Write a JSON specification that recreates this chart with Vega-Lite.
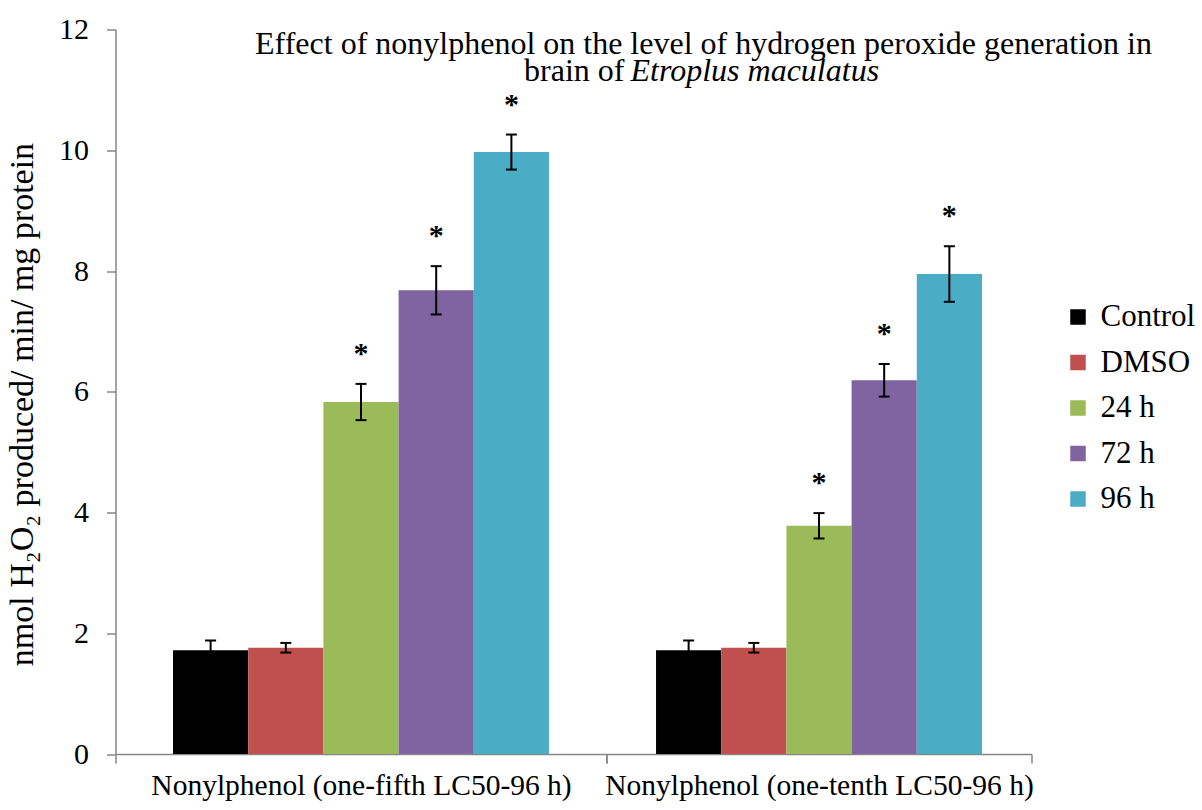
{
  "$schema": "https://vega.github.io/schema/vega-lite/v6.json",
  "autosize": {"type": "pad"},
  "padding": {"left": 5.5, "top": 14.5, "right": 5, "bottom": 5},
  "background": "white",
  "bounds": "flush",
  "title": {
    "text": "Effect of nonylphenol on the level of hydrogen peroxide generation in",
    "anchor": "middle",
    "frame": "group",
    "font": "Liberation Serif",
    "fontSize": 32,
    "fontWeight": "normal",
    "color": "black",
    "dx": 588,
    "offset": -46
  },
  "datasets": {
    "main": [
      {"group": "Nonylphenol (one-fifth LC50-96 h)", "series": "Control", "mean": 1.72, "sd": 0.16, "sig": ""},
      {"group": "Nonylphenol (one-fifth LC50-96 h)", "series": "DMSO", "mean": 1.76, "sd": 0.08, "sig": ""},
      {"group": "Nonylphenol (one-fifth LC50-96 h)", "series": "24 h", "mean": 5.83, "sd": 0.30, "sig": "*"},
      {"group": "Nonylphenol (one-fifth LC50-96 h)", "series": "72 h", "mean": 7.68, "sd": 0.40, "sig": "*"},
      {"group": "Nonylphenol (one-fifth LC50-96 h)", "series": "96 h", "mean": 9.97, "sd": 0.29, "sig": "*"},
      {"group": "Nonylphenol (one-tenth LC50-96 h)", "series": "Control", "mean": 1.72, "sd": 0.16, "sig": ""},
      {"group": "Nonylphenol (one-tenth LC50-96 h)", "series": "DMSO", "mean": 1.76, "sd": 0.08, "sig": ""},
      {"group": "Nonylphenol (one-tenth LC50-96 h)", "series": "24 h", "mean": 3.78, "sd": 0.21, "sig": "*"},
      {"group": "Nonylphenol (one-tenth LC50-96 h)", "series": "72 h", "mean": 6.19, "sd": 0.27, "sig": "*"},
      {"group": "Nonylphenol (one-tenth LC50-96 h)", "series": "96 h", "mean": 7.95, "sd": 0.46, "sig": "*"}
    ]
  },
  "config": {
    "font": "Liberation Serif",
    "view": {"stroke": null},
    "concat": {"spacing": 0},
    "axis": {
      "domainColor": "#868686",
      "domainWidth": 1.5,
      "tickColor": "#868686",
      "tickWidth": 1.5,
      "labelColor": "black",
      "labelFont": "Liberation Serif",
      "titleFont": "Liberation Serif",
      "titleColor": "black",
      "titleFontWeight": "normal",
      "grid": false
    },
    "axisX": {"labelFontSize": 29.5, "labelPadding": 8, "tickSize": 9, "labelAngle": 0, "labelLimit": 0, "tickBand": "extent"},
    "legend": {
      "orient": "none",
      "legendX": 947,
      "legendY": 272,
      "padding": 0,
      "symbolType": "square",
      "symbolSize": 240,
      "symbolStrokeWidth": 0,
      "labelFontSize": 31,
      "labelFont": "Liberation Serif",
      "labelColor": "black",
      "labelOffset": 7,
      "rowPadding": 13.5
    }
  },
  "resolve": {"scale": {"x": "independent", "xOffset": "independent", "y": "shared", "color": "shared"}},
  "hconcat": [
    {
      "title": {"text": "brain of", "anchor": "end", "frame": "group", "font": "Liberation Serif", "fontSize": 32, "fontWeight": "normal", "color": "black", "dx": 18, "offset": -73},
      "width": 491,
      "height": 724.5,
      "data": {"name": "main"},
      "transform": [
        {"filter": {"field": "group", "equal": "Nonylphenol (one-fifth LC50-96 h)"}},
        {"calculate": "datum.mean - datum.sd", "as": "lo"},
        {"calculate": "datum.mean + datum.sd", "as": "hi"}
      ],
      "encoding": {
        "x": {"field": "group", "type": "nominal", "title": null, "scale": {"paddingInner": 0, "paddingOuter": 0}},
        "xOffset": {"field": "series", "type": "nominal", "sort": ["Control", "DMSO", "24 h", "72 h", "96 h"], "scale": {"paddingInner": 0, "paddingOuter": 0.765}}
      },
      "layer": [
        {
          "mark": {"type": "bar"},
          "encoding": {
            "y": {"field": "mean", "type": "quantitative", "title": "nmol H₂O₂ produced/ min/ mg protein", "scale": {"domain": [0, 12], "nice": false},
                  "axis": {"values": [0, 2, 4, 6, 8, 10, 12], "format": "d", "labelFontSize": 30, "labelPadding": 18, "tickSize": 9, "titleFontSize": 34, "titlePadding": 19, "titleY": 374.5}},
            "color": {"field": "series", "type": "nominal", "sort": ["Control", "DMSO", "24 h", "72 h", "96 h"], "scale": {"domain": ["Control", "DMSO", "24 h", "72 h", "96 h"], "range": ["#000000", "#C0504D", "#9BBB59", "#8064A2", "#4BACC6"]}, "legend": {"title": null}}
          }
        },
        {
          "mark": {"type": "rule", "color": "black", "strokeWidth": 2},
          "encoding": {
            "y": {"field": "lo", "type": "quantitative", "title": "nmol H₂O₂ produced/ min/ mg protein"},
            "y2": {"field": "hi"}
          }
        },
        {
          "mark": {"type": "tick", "color": "black", "thickness": 2, "size": 11, "opacity": 1},
          "encoding": {"y": {"field": "lo", "type": "quantitative", "title": "nmol H₂O₂ produced/ min/ mg protein"}}
        },
        {
          "mark": {"type": "tick", "color": "black", "thickness": 2, "size": 11, "opacity": 1},
          "encoding": {"y": {"field": "hi", "type": "quantitative", "title": "nmol H₂O₂ produced/ min/ mg protein"}}
        },
        {
          "mark": {"type": "text", "fontSize": 30, "fontWeight": "bold", "baseline": "alphabetic", "dy": -21, "color": "black"},
          "encoding": {
            "y": {"field": "hi", "type": "quantitative", "title": "nmol H₂O₂ produced/ min/ mg protein"},
            "text": {"field": "sig"}
          }
        }
      ]
    },
    {
      "title": {"text": "Etroplus maculatus", "anchor": "start", "frame": "group", "font": "Liberation Serif", "fontSize": 32, "fontWeight": "normal", "fontStyle": "italic", "color": "black", "dx": 24, "offset": -58},
      "width": 425,
      "height": 724.5,
      "data": {"name": "main"},
      "transform": [
        {"filter": {"field": "group", "equal": "Nonylphenol (one-tenth LC50-96 h)"}},
        {"calculate": "datum.mean - datum.sd", "as": "lo"},
        {"calculate": "datum.mean + datum.sd", "as": "hi"}
      ],
      "encoding": {
        "x": {"field": "group", "type": "nominal", "title": null, "scale": {"paddingInner": 0, "paddingOuter": 0}},
        "xOffset": {"field": "series", "type": "nominal", "sort": ["Control", "DMSO", "24 h", "72 h", "96 h"], "scale": {"paddingInner": 0, "paddingOuter": 0.76}}
      },
      "layer": [
        {
          "mark": {"type": "bar"},
          "encoding": {
            "y": {"field": "mean", "type": "quantitative", "axis": null, "scale": {"domain": [0, 12], "nice": false}},
            "color": {"field": "series", "type": "nominal", "sort": ["Control", "DMSO", "24 h", "72 h", "96 h"], "scale": {"domain": ["Control", "DMSO", "24 h", "72 h", "96 h"], "range": ["#000000", "#C0504D", "#9BBB59", "#8064A2", "#4BACC6"]}, "legend": {"title": null}}
          }
        },
        {
          "mark": {"type": "rule", "color": "black", "strokeWidth": 2},
          "encoding": {
            "y": {"field": "lo", "type": "quantitative", "axis": null},
            "y2": {"field": "hi"}
          }
        },
        {
          "mark": {"type": "tick", "color": "black", "thickness": 2, "size": 11, "opacity": 1},
          "encoding": {"y": {"field": "lo", "type": "quantitative", "axis": null}}
        },
        {
          "mark": {"type": "tick", "color": "black", "thickness": 2, "size": 11, "opacity": 1},
          "encoding": {"y": {"field": "hi", "type": "quantitative", "axis": null}}
        },
        {
          "mark": {"type": "text", "fontSize": 30, "fontWeight": "bold", "baseline": "alphabetic", "dy": -21, "color": "black"},
          "encoding": {
            "y": {"field": "hi", "type": "quantitative", "axis": null},
            "text": {"field": "sig"}
          }
        }
      ]
    }
  ]
}
